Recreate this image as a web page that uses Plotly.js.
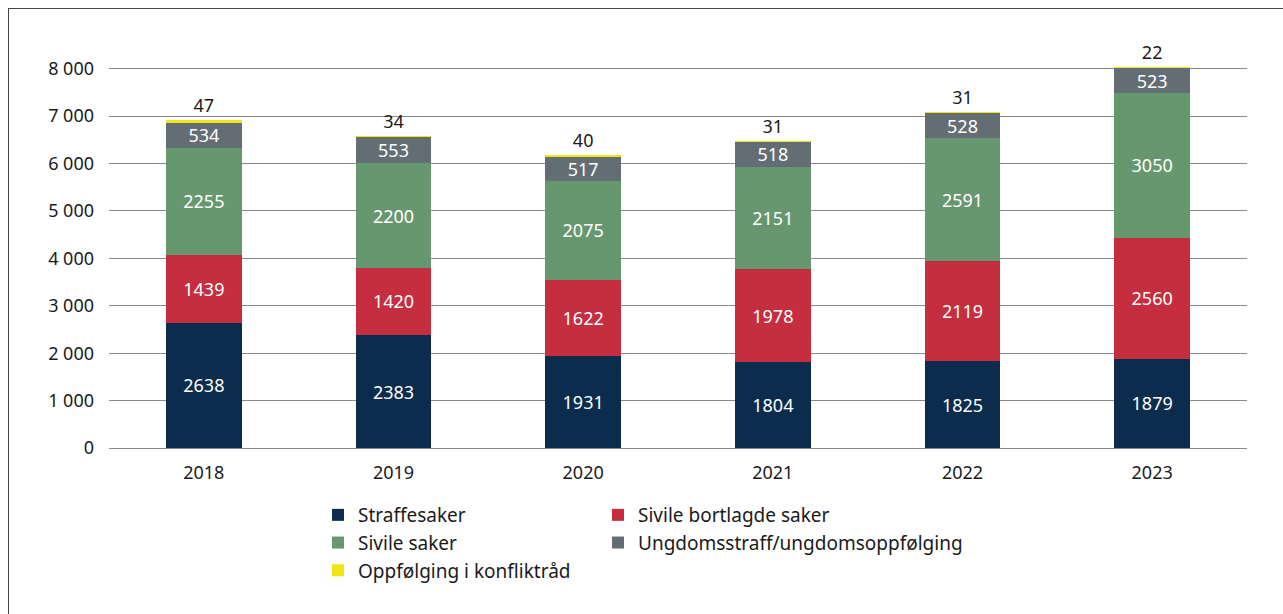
<!DOCTYPE html>
<html>
<head>
<meta charset="utf-8">
<script src="https://cdn.plot.ly/plotly-3.0.1.min.js"></script>
<style>
  html, body { margin: 0; padding: 0; background: #fff; }
  #chart { position: absolute; left: 0; top: 0; width: 1283px; height: 614px; }
  #frame { position: absolute; left: 8px; top: 8px; width: 1280px; height: 610px; border: 1px solid #444; box-sizing: border-box; pointer-events: none; }
</style>
</head>
<body>
<div id="chart"></div>
<div id="frame"></div>
<script>
const years = ['2018', '2019', '2020', '2021', '2022', '2023'];
const straffesaker = [2638, 2383, 1931, 1804, 1825, 1879];
const sivileBortlagde = [1439, 1420, 1622, 1978, 2119, 2560];
const sivileSaker = [2255, 2200, 2075, 2151, 2591, 3050];
const ungdomsstraff = [534, 553, 517, 518, 528, 523];
const konfliktraad = [47, 34, 40, 31, 31, 22];
const yTicks = [0, 1000, 2000, 3000, 4000, 5000, 6000, 7000, 8000];

const FONT = 'Noto Sans, Open Sans, sans-serif';

function seg(name, vals, color, legend, inside) {
  return {
    type: 'bar', name: name, x: years, y: vals,
    marker: { color: color, line: { width: 0 } },
    text: vals.map(String),
    textposition: inside ? 'inside' : 'outside',
    insidetextanchor: 'middle',
    constraintext: 'none',
    cliponaxis: false,
    textfont: { family: FONT, size: 18, color: inside ? '#ffffff' : '#1a1a1a' },
    legend: legend,
    legendgroup: name,
    hoverinfo: 'x+y+name'
  };
}

const data = [
  seg('Straffesaker', straffesaker, '#0b2c4d', 'legend', true),
  seg('Sivile bortlagde saker', sivileBortlagde, '#c52e3e', 'legend2', true),
  seg('Sivile saker', sivileSaker, '#67976f', 'legend', true),
  seg('Ungdomsstraff/ungdomsoppfølging', ungdomsstraff, '#636d74', 'legend2', true),
  seg('Oppfølging i konfliktråd', konfliktraad, '#f0e614', 'legend', false)
];

const legendBase = {
  orientation: 'v',
  traceorder: 'grouped',
  xanchor: 'left', yanchor: 'top',
  font: { family: FONT, size: 19, color: '#1a1a1a' },
  bgcolor: 'rgba(0,0,0,0)',
  tracegroupgap: 0,
  itemwidth: 30
};

const layout = {
  width: 1283, height: 614,
  margin: { l: 109, r: 36, t: 64, b: 166 },
  paper_bgcolor: '#ffffff', plot_bgcolor: '#ffffff',
  separators: ', ',
  barmode: 'stack',
  bargap: 0.6,
  font: { family: FONT, size: 18, color: '#1a1a1a' },
  xaxis: {
    type: 'category',
    showgrid: false, showline: false, zeroline: false,
    ticks: '',
    ticklabelstandoff: 12,
    tickfont: { family: FONT, size: 18, color: '#1a1a1a' }
  },
  yaxis: {
    range: [0, 8100],
    tickvals: yTicks,
    tickformat: ',d',
    showgrid: true, gridcolor: '#8a8a8a', gridwidth: 1,
    zeroline: true, zerolinecolor: '#8a8a8a', zerolinewidth: 1,
    showline: false, ticks: '',
    ticklabelstandoff: 14,
    tickfont: { family: FONT, size: 18, color: '#1a1a1a' }
  },
  legend: Object.assign({}, legendBase, { x: (318 - 109) / 1138, y: -0.125 }),
  legend2: Object.assign({}, legendBase, { x: (598 - 109) / 1138, y: -0.125 }),
  showlegend: true
};

Plotly.newPlot('chart', data, layout, { displayModeBar: false, staticPlot: true });
</script>
</body>
</html>
